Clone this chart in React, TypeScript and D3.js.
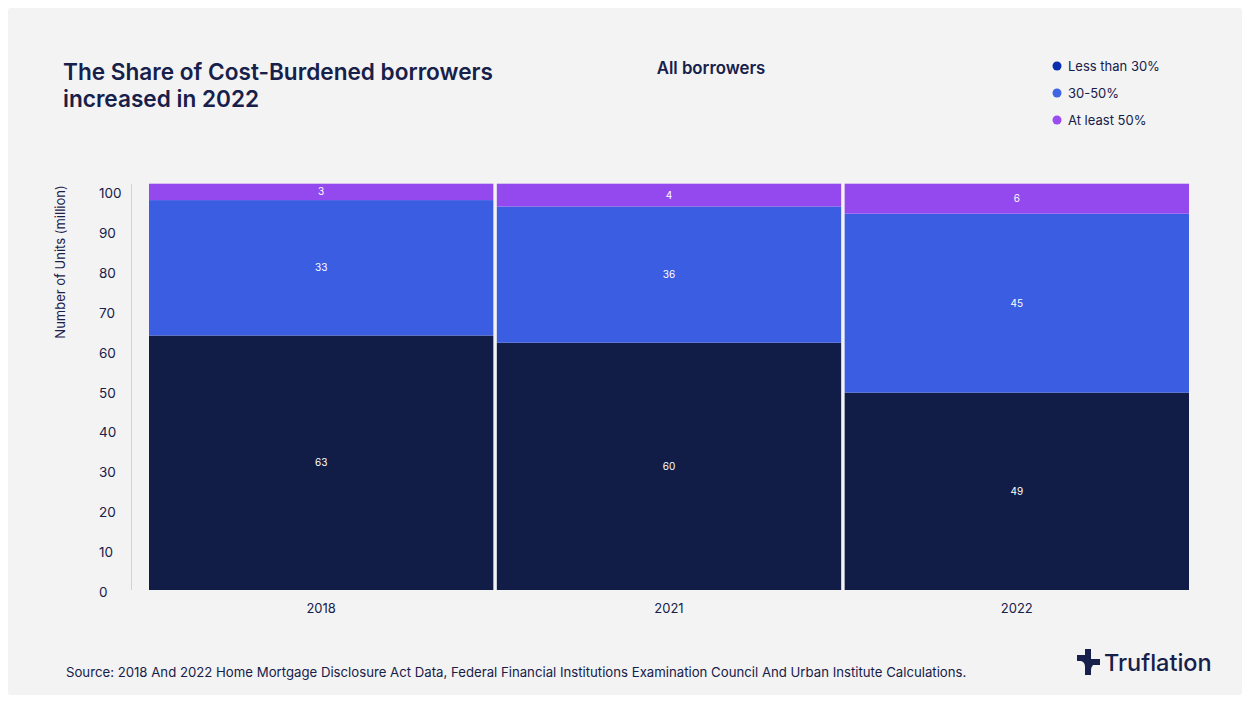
import React from "react";
import * as d3 from "d3";

const years = ["2018", "2021", "2022"];
const lessThan30 = [63.7, 61.9, 49.4];
const between30to50 = [33.9, 34.1, 44.8];
const atLeast50 = [4.1, 5.7, 7.5];
const lessThan30Labels = ["63", "60", "49"];
const between30to50Labels = ["33", "36", "45"];
const atLeast50Labels = ["3", "4", "6"];
const yTicks = [0, 10, 20, 30, 40, 50, 60, 70, 80, 90, 100];
const seriesNames = ["Less than 30%", "30-50%", "At least 50%"];

const W = 1250;
const H = 703;
const FONT = "Inter, 'Noto Sans', sans-serif";
const INK = "#16204a";

export default function App() {
  React.useEffect(() => {
    document.body.style.margin = "0";
  }, []);

  const x = d3.scaleBand<string>().domain(years).range([149, 1189]).paddingInner(0.01).paddingOuter(0);
  const y = d3.scaleLinear().domain([0, 100]).range([590, 190.5]);
  const tickY = d3.scaleLinear().domain([0, 100]).range([592, 193]);

  const seriesLabels = [lessThan30Labels, between30to50Labels, atLeast50Labels];
  const barColors = ["#111d46", "#3a5de2", "#9449ef"];
  const dotColors = ["#0a2fae", "#3f64e4", "#9a4cf0"];

  const table = years.map((yr, i) => ({
    year: yr,
    s0: lessThan30[i],
    s1: between30to50[i],
    s2: atLeast50[i],
  }));
  const stack = d3.stack<any>().keys(["s0", "s1", "s2"])(table);

  return (
    <svg width={W} height={H} style={{ display: "block", fontFamily: FONT }}>
      <rect x={0} y={0} width={W} height={H} fill="#ffffff" />
      <rect x={8} y={8} width={W - 16} height={H - 16} fill="#f3f3f3" rx={3} />

      <text x={63} y={80} fontSize={22.6} fontWeight={600} fill={INK}>
        The Share of Cost-Burdened borrowers
      </text>
      <text x={63} y={107} fontSize={22.6} fontWeight={600} fill={INK}>
        increased in 2022
      </text>

      <text x={711} y={74} fontSize={16.8} fontWeight={600} fill={INK} textAnchor="middle">
        All borrowers
      </text>

      {seriesNames.map((n, i) => (
        <g key={n} transform={`translate(1057, ${66 + i * 27})`}>
          <circle cx={0} cy={0} r={4.5} fill={dotColors[i]} />
          <text x={11} y={4.5} fontSize={13} fill={INK}>
            {n}
          </text>
        </g>
      ))}

      <text
        transform={`translate(65, ${262}) rotate(-90)`}
        fontSize={13}
        fill={INK}
        textAnchor="middle"
      >
        Number of Units (million)
      </text>

      {yTicks.map((t) => (
        <text key={t} x={99} y={tickY(t) + 5} fontSize={13.5} fill={INK}>
          {t}
        </text>
      ))}
      <line x1={131.5} x2={131.5} y1={184} y2={590} stroke="#d2d3da" strokeWidth={1} />

      {stack.map((layer, si) => (
        <g key={si}>
          {layer.map((d, i) => {
            const x0 = x(years[i])!;
            const y0 = y(d[1]);
            const y1 = y(d[0]);
            return (
              <g key={i}>
                <rect x={x0} y={y0} width={x.bandwidth()} height={y1 - y0} fill={barColors[si]} />
                <text
                  x={x0 + x.bandwidth() / 2}
                  y={(y0 + y1) / 2 + 3.5}
                  fontSize={10}
                  fill="#ffffff"
                  textAnchor="middle"
                >
                  {seriesLabels[si][i]}
                </text>
              </g>
            );
          })}
        </g>
      ))}

      {years.map((yr) => (
        <text key={yr} x={x(yr)! + x.bandwidth() / 2} y={613} fontSize={13} fill={INK} textAnchor="middle">
          {yr}
        </text>
      ))}

      <text x={66} y={677} fontSize={13.2} fill={INK}>
        Source: 2018 And 2022 Home Mortgage Disclosure Act Data, Federal Financial Institutions Examination Council And Urban Institute Calculations.
      </text>

      <g transform="translate(1077, 649)" fill="#16204a">
        <path d="M8 0 H14 V10 H23 V16 H16 Q14 18 14 22 V26 H8 V18 Q8 13 4 12 H0 V6 H8 Z" />
      </g>
      <text x={1104} y={671} fontSize={23.5} fontWeight={500} fill={INK}>
        Truflation
      </text>
    </svg>
  );
}
